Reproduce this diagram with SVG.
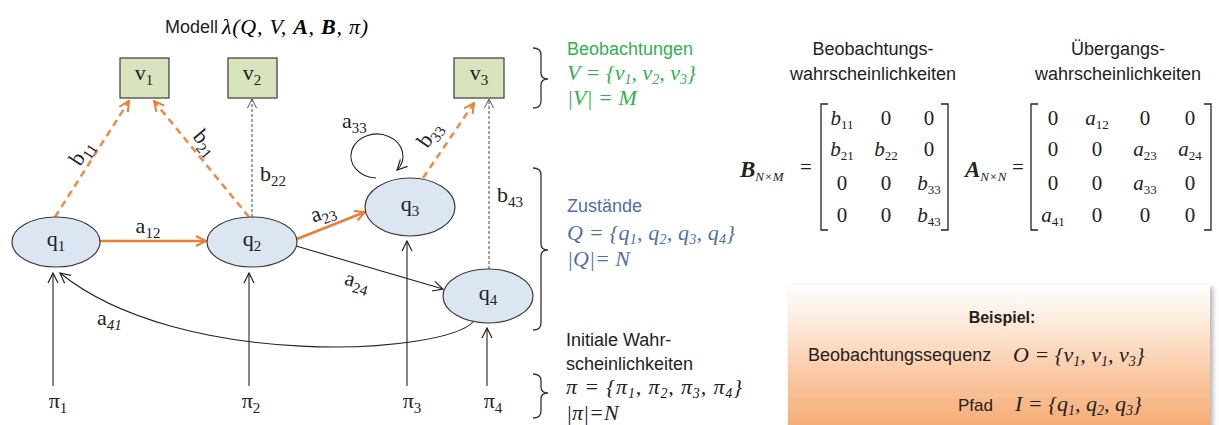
<svg xmlns="http://www.w3.org/2000/svg" width="1219" height="425" viewBox="0 0 1219 425">
<defs>
<style>
.sans{font-family:"Liberation Sans",Arial,sans-serif;font-size:18px;fill:#222}
.lbl{font-family:"Liberation Serif","Times New Roman",serif;font-size:22px;fill:#222}
.sb{font-size:15px}
.mi{font-family:"Liberation Serif","Times New Roman",serif;font-style:italic;font-size:22px}
.msb{font-size:14px}
.mx{font-family:"Liberation Serif","Times New Roman",serif;font-size:21px;fill:#222}
.mxs{font-size:13px}
.mxi{font-size:13px;font-style:italic}
.state{fill:#dce6f2;stroke:#3a3a3a;stroke-width:1.2}
.obs{fill:#d7e4bd;stroke:#3a3a3a;stroke-width:1.2}
.eo{stroke:#ed7d31;stroke-width:2.5;fill:none}
.ed{stroke:#ef8a45;stroke-width:2.5;fill:none;stroke-dasharray:7 5}
.ek{stroke:#222;stroke-width:1.1;fill:none}
.eg{stroke:#444;stroke-width:1;fill:none;stroke-dasharray:3 2}
.brace{stroke:#333;stroke-width:1.3;fill:none}
.brk{stroke:#222;stroke-width:1.3;fill:none}
.green{fill:#33b04f}
.blue{fill:#4f6fa3}
</style>
<marker id="mO" viewBox="0 0 12 12" refX="11" refY="6" markerWidth="12" markerHeight="12" markerUnits="userSpaceOnUse" orient="auto"><path d="M1,1 L11,6 L1,11" fill="none" stroke="#ed7d31" stroke-width="2"/></marker>
<marker id="mK" viewBox="0 0 12 12" refX="11" refY="6" markerWidth="12" markerHeight="12" markerUnits="userSpaceOnUse" orient="auto"><path d="M1,1 L11,6 L1,11" fill="none" stroke="#222" stroke-width="1.2"/></marker>
<marker id="mG" viewBox="0 0 12 12" refX="11" refY="6" markerWidth="11" markerHeight="11" markerUnits="userSpaceOnUse" orient="auto"><path d="M1,1 L11,6 L1,11" fill="none" stroke="#444" stroke-width="1"/></marker>
<linearGradient id="gB" x1="0" y1="0" x2="0" y2="1">
<stop offset="0" stop-color="#ffffff"/>
<stop offset="0.3" stop-color="#fde6d3"/>
<stop offset="0.65" stop-color="#f9c49c"/>
<stop offset="1" stop-color="#f5a86e"/>
</linearGradient>
<filter id="blur" x="-10%" y="-10%" width="120%" height="130%"><feGaussianBlur stdDeviation="2.5"/></filter>
</defs>
<rect width="1219" height="425" fill="#ffffff"/>

<g id="title">
<text class="sans" x="165" y="33" style="font-size:18px">Modell</text>
<text class="mi" x="222" y="34" style="font-size:22px" textLength="146">λ(Q, V, <tspan font-weight="bold">A</tspan>, <tspan font-weight="bold">B</tspan>, π)</text>
</g>

<g id="connectors">
<line class="eo" x1="100" y1="241" x2="206" y2="241" marker-end="url(#mO)"/>
<line class="eo" x1="297" y1="239" x2="365" y2="212" marker-end="url(#mO)"/>
<line class="ek" x1="296" y1="246" x2="443" y2="289" marker-end="url(#mK)"/>
<path class="ek" d="M 376 178 A 26 22 0 1 1 397 170" marker-end="url(#mK)"/>
<path class="ek" d="M 474 321 C 445 355 180 370 60 273" marker-end="url(#mK)"/>
<line class="ed" x1="55" y1="217" x2="129" y2="101" marker-end="url(#mO)"/>
<line class="ed" x1="249" y1="217" x2="154" y2="101" marker-end="url(#mO)"/>
<line class="eg" x1="252" y1="217" x2="252" y2="99" marker-end="url(#mG)"/>
<line class="ed" x1="423" y1="178" x2="474" y2="103" marker-end="url(#mO)"/>
<line class="eg" x1="489" y1="269" x2="489" y2="99" marker-end="url(#mG)"/>
<line class="ek" x1="53" y1="386" x2="53" y2="273" marker-end="url(#mK)"/>
<line class="ek" x1="249" y1="386" x2="249" y2="273" marker-end="url(#mK)"/>
<line class="ek" x1="407" y1="386" x2="407" y2="241" marker-end="url(#mK)"/>
<line class="ek" x1="487" y1="386" x2="487" y2="328" marker-end="url(#mK)"/>
</g>

<g id="edge-labels">
<text class="lbl" x="148" y="233" text-anchor="middle">a<tspan class="sb" dy="5">12</tspan></text>
<g transform="translate(323,213) rotate(-20)"><text class="lbl" x="0" y="6" text-anchor="middle">a<tspan class="sb" dy="5">23</tspan></text></g>
<g transform="translate(357,282) rotate(16)"><text class="lbl" x="0" y="6" text-anchor="middle">a<tspan class="sb" dy="5">24</tspan></text></g>
<text class="lbl" x="342" y="128">a<tspan class="sb" dy="5">33</tspan></text>
<text class="lbl" x="97" y="325">a<tspan class="sb" dy="5" font-style="italic">41</tspan></text>
<g transform="translate(82,153) rotate(-57)"><text class="lbl" x="0" y="6" text-anchor="middle">b<tspan class="sb" dy="5">11</tspan></text></g>
<g transform="translate(205,143) rotate(50)"><text class="lbl" x="0" y="6" text-anchor="middle">b<tspan class="sb" dy="5">21</tspan></text></g>
<text class="lbl" x="260" y="181">b<tspan class="sb" dy="5">22</tspan></text>
<g transform="translate(430,135) rotate(-55)"><text class="lbl" x="0" y="6" text-anchor="middle">b<tspan class="sb" dy="5">33</tspan></text></g>
<text class="lbl" x="497" y="202">b<tspan class="sb" dy="5">43</tspan></text>
<text class="lbl" x="58" y="408" text-anchor="middle">π<tspan class="sb" dy="5">1</tspan></text>
<text class="lbl" x="251" y="408" text-anchor="middle">π<tspan class="sb" dy="5">2</tspan></text>
<text class="lbl" x="412" y="408" text-anchor="middle">π<tspan class="sb" dy="5">3</tspan></text>
<text class="lbl" x="493" y="408" text-anchor="middle">π<tspan class="sb" dy="5">4</tspan></text>
</g>

<g id="node-v1"><rect class="obs" x="120" y="58" width="49" height="40"/><text class="lbl" x="144" y="80" text-anchor="middle">v<tspan class="sb" dy="5">1</tspan></text></g>
<g id="node-v2"><rect class="obs" x="228" y="58" width="49" height="40"/><text class="lbl" x="252" y="80" text-anchor="middle">v<tspan class="sb" dy="5">2</tspan></text></g>
<g id="node-v3"><rect class="obs" x="454" y="58" width="50" height="40"/><text class="lbl" x="479" y="80" text-anchor="middle">v<tspan class="sb" dy="5">3</tspan></text></g>

<g id="node-q1"><ellipse class="state" cx="56" cy="242" rx="44" ry="25"/><text class="lbl" x="56" y="246" text-anchor="middle">q<tspan class="sb" dy="5">1</tspan></text></g>
<g id="node-q2"><ellipse class="state" cx="252" cy="242" rx="45" ry="25"/><text class="lbl" x="252" y="246" text-anchor="middle">q<tspan class="sb" dy="5">2</tspan></text></g>
<g id="node-q3"><ellipse class="state" cx="410" cy="207" rx="45" ry="29"/><text class="lbl" x="410" y="211" text-anchor="middle">q<tspan class="sb" dy="5">3</tspan></text></g>
<g id="node-q4"><ellipse class="state" cx="488" cy="296" rx="45" ry="27"/><text class="lbl" x="488" y="300" text-anchor="middle">q<tspan class="sb" dy="5">4</tspan></text></g>

<g id="braces">
<path class="brace" d="M533 48 Q541 48 541 55 L541 73 Q541 79 548 79 Q541 79 541 85 L541 101 Q541 108 533 108"/>
<path class="brace" d="M533 168 Q541 168 541 175 L541 244 Q541 250 548 250 Q541 250 541 256 L541 323 Q541 330 533 330"/>
<path class="brace" d="M533 374 Q541 374 541 381 L541 387 Q541 393 548 393 Q541 393 541 399 L541 411 Q541 418 533 418"/>
</g>

<g id="legend">
<text class="sans green" x="567" y="55">Beobachtungen</text>
<text class="mi green" x="567" y="80">V = {v<tspan class="msb" dy="4">1</tspan><tspan dy="-4">, v</tspan><tspan class="msb" dy="4">2</tspan><tspan dy="-4">, v</tspan><tspan class="msb" dy="4">3</tspan><tspan dy="-4">}</tspan></text>
<text class="mi green" x="567" y="105">|V| = M</text>
<text class="sans blue" x="567" y="212">Zustände</text>
<text class="mi blue" x="567" y="240" textLength="168">Q = {q<tspan class="msb" dy="4">1</tspan><tspan dy="-4">, q</tspan><tspan class="msb" dy="4">2</tspan><tspan dy="-4">, q</tspan><tspan class="msb" dy="4">3</tspan><tspan dy="-4">, q</tspan><tspan class="msb" dy="4">4</tspan><tspan dy="-4">}</tspan></text>
<text class="mi blue" x="567" y="266">|Q|= N</text>
<text class="sans" x="566" y="346">Initiale Wahr-</text>
<text class="sans" x="566" y="370">scheinlichkeiten</text>
<text class="mi" x="566" y="394" fill="#222" textLength="176">π = {π<tspan class="msb" dy="4">1</tspan><tspan dy="-4">, π</tspan><tspan class="msb" dy="4">2</tspan><tspan dy="-4">, π</tspan><tspan class="msb" dy="4">3</tspan><tspan dy="-4">, π</tspan><tspan class="msb" dy="4">4</tspan><tspan dy="-4">}</tspan></text>
<text class="mi" x="566" y="420" fill="#222">|π|=N</text>
</g>

<g id="matrix-B">
<text class="sans" x="873" y="55" text-anchor="middle">Beobachtungs-</text>
<text class="sans" x="873" y="80" text-anchor="middle">wahrscheinlichkeiten</text>
<text class="mx" x="740" y="177"><tspan font-weight="bold" font-style="italic" font-size="23">B</tspan><tspan class="mxi" dy="4">N×M</tspan></text>
<text class="mx" x="800" y="174">=</text>
<path class="brk" d="M828 104 H821 V230 H828"/>
<path class="brk" d="M941 104 H948 V230 H941"/>
<g class="mx" text-anchor="middle">
<text x="842" y="125"><tspan font-style="italic">b</tspan><tspan class="mxs" dy="4">11</tspan></text>
<text x="886" y="125">0</text><text x="929" y="125">0</text>
<text x="842" y="156"><tspan font-style="italic">b</tspan><tspan class="mxs" dy="4">21</tspan></text>
<text x="886" y="156"><tspan font-style="italic">b</tspan><tspan class="mxs" dy="4">22</tspan></text>
<text x="929" y="156">0</text>
<text x="842" y="190">0</text><text x="886" y="190">0</text>
<text x="929" y="190"><tspan font-style="italic">b</tspan><tspan class="mxs" dy="4">33</tspan></text>
<text x="842" y="222">0</text><text x="886" y="222">0</text>
<text x="929" y="222"><tspan font-style="italic">b</tspan><tspan class="mxs" dy="4">43</tspan></text>
</g>
</g>

<g id="matrix-A">
<text class="sans" x="1118" y="55" text-anchor="middle">Übergangs-</text>
<text class="sans" x="1118" y="80" text-anchor="middle">wahrscheinlichkeiten</text>
<text class="mx" x="965" y="177"><tspan font-weight="bold" font-style="italic" font-size="23">A</tspan><tspan class="mxi" dy="4">N×N</tspan></text>
<text class="mx" x="1012" y="174">=</text>
<path class="brk" d="M1038 104 H1031 V230 H1038"/>
<path class="brk" d="M1204 104 H1211 V230 H1204"/>
<g class="mx" text-anchor="middle">
<text x="1053" y="125">0</text>
<text x="1097" y="125"><tspan font-style="italic">a</tspan><tspan class="mxs" dy="4">12</tspan></text>
<text x="1145" y="125">0</text><text x="1190" y="125">0</text>
<text x="1053" y="156">0</text><text x="1097" y="156">0</text>
<text x="1145" y="156"><tspan font-style="italic">a</tspan><tspan class="mxs" dy="4">23</tspan></text>
<text x="1190" y="156"><tspan font-style="italic">a</tspan><tspan class="mxs" dy="4">24</tspan></text>
<text x="1053" y="190">0</text><text x="1097" y="190">0</text>
<text x="1145" y="190"><tspan font-style="italic">a</tspan><tspan class="mxs" dy="4">33</tspan></text>
<text x="1190" y="190">0</text>
<text x="1053" y="222"><tspan font-style="italic">a</tspan><tspan class="mxs" dy="4">41</tspan></text>
<text x="1097" y="222">0</text><text x="1145" y="222">0</text><text x="1190" y="222">0</text>
</g>
</g>

<g id="example">
<rect x="791" y="287" width="422" height="150" fill="#777" opacity="0.55" filter="url(#blur)"/>
<rect x="788" y="285" width="422" height="150" fill="url(#gB)"/>
<text class="sans" x="1002" y="323" text-anchor="middle" font-weight="bold" style="font-size:16px">Beispiel:</text>
<text class="sans" x="808" y="361">Beobachtungssequenz</text>
<text class="mi" x="1013" y="362" fill="#222">O = {v<tspan class="msb" dy="4">1</tspan><tspan dy="-4">, v</tspan><tspan class="msb" dy="4">1</tspan><tspan dy="-4">, v</tspan><tspan class="msb" dy="4">3</tspan><tspan dy="-4">}</tspan></text>
<text class="sans" x="958" y="411" style="font-size:17px">Pfad</text>
<text class="mi" x="1015" y="411" fill="#222">I = {q<tspan class="msb" dy="4">1</tspan><tspan dy="-4">, q</tspan><tspan class="msb" dy="4">2</tspan><tspan dy="-4">, q</tspan><tspan class="msb" dy="4">3</tspan><tspan dy="-4">}</tspan></text>
</g>
</svg>
